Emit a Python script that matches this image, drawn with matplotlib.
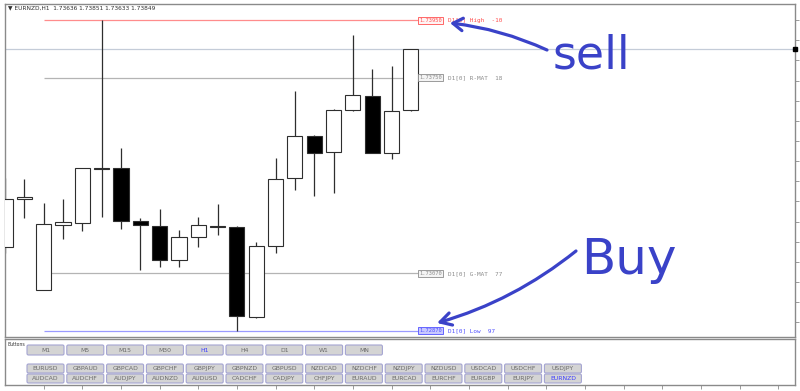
import numpy as np
import matplotlib
matplotlib.use("Agg")
import matplotlib.pyplot as plt
from matplotlib.patches import Rectangle, FancyBboxPatch
from matplotlib.ticker import MultipleLocator

# EURNZD H1 candles (oldest first)
opens  = [1.73163, 1.73327, 1.73012, 1.73238, 1.73246, 1.73436, 1.73435, 1.73253, 1.73236, 1.73117, 1.73197,
          1.73236, 1.73232, 1.72920, 1.73165, 1.73400, 1.73548, 1.73491, 1.73637, 1.73688, 1.73489, 1.73636]
highs  = [1.73401, 1.73398, 1.73313, 1.73328, 1.73437, 1.73950, 1.73504, 1.73261, 1.73293, 1.73221, 1.73267,
          1.73310, 1.73235, 1.73180, 1.73472, 1.73703, 1.73551, 1.73640, 1.73898, 1.73779, 1.73791, 1.73851]
lows   = [1.73141, 1.73263, 1.73011, 1.73188, 1.73217, 1.73265, 1.73223, 1.73082, 1.73093, 1.73091, 1.73161,
          1.73203, 1.72870, 1.72914, 1.73140, 1.73360, 1.73340, 1.73348, 1.73635, 1.73487, 1.73466, 1.73633]
closes = [1.73328, 1.73336, 1.73242, 1.73248, 1.73435, 1.73434, 1.73253, 1.73237, 1.73117, 1.73197, 1.73237,
          1.73231, 1.72922, 1.73165, 1.73398, 1.73547, 1.73489, 1.73637, 1.73691, 1.73489, 1.73634, 1.73849]

# D1 levels drawn by the indicator
level_names  = ["High", "R-MAT", "G-MAT", "Low"]
level_prices = [1.73950, 1.73750, 1.73070, 1.72870]
level_pips   = [-10, 18, 77, 97]
level_colors = ["#ff8c8c", "#b4b4b4", "#b4b4b4", "#9a9aff"]
label_colors = ["#ff5050", "#8c8c8c", "#8c8c8c", "#5050ff"]
label_fills  = ["#fff4f4", "#f4f4f4", "#f4f4f4", "#c8c8ff"]
level_start = 2          # lines start at this bar
bid = 1.73849

timeframes = ["M1", "M5", "M15", "M30", "H1", "H4", "D1", "W1", "MN"]
symbols_top = ["EURUSD", "GBPAUD", "GBPCAD", "GBPCHF", "GBPJPY", "GBPNZD", "GBPUSD",
               "NZDCAD", "NZDCHF", "NZDJPY", "NZDUSD", "USDCAD", "USDCHF", "USDJPY"]
symbols_bot = ["AUDCAD", "AUDCHF", "AUDJPY", "AUDNZD", "AUDUSD", "CADCHF", "CADJPY",
               "CHFJPY", "EURAUD", "EURCAD", "EURCHF", "EURGBP", "EURJPY", "EURNZD"]
active_tf, active_sym = "H1", "EURNZD"

W, H = 800, 391
BAR_PX = 19.33
INK = "#3a42c8"
MONO = "DejaVu Sans Mono"

fig = plt.figure(figsize=(W / 100, H / 100), dpi=100)
fig.patch.set_facecolor("white")

# main price window
ax = fig.add_axes([5 / W, (H - 337) / H, 790 / W, 333 / H], zorder=1)
ax.set_xlim(0, 790 / BAR_PX)
ax.set_ylim(1.72849, 1.74006)
for s in ax.spines.values():
    s.set_color("#8a8a8a"); s.set_linewidth(1)
ax.yaxis.tick_right()
ax.yaxis.set_major_locator(MultipleLocator(0.0007))
ax.tick_params(axis="y", length=3, width=0.6, color="#8a8a8a", labelright=False, labelleft=False)
ax.set_xticks([])

ax.axhline(bid, color="#c4ccd8", lw=0.9, zorder=1)
ax.plot([ax.get_xlim()[1]], [bid], marker="s", ms=3.2, color="black", clip_on=False, zorder=5)

xr = level_start + (418 - 5 - level_start * BAR_PX) / BAR_PX   # end of level lines
for name, p, pip, lc, tc, fc in zip(level_names, level_prices, level_pips, level_colors, label_colors, label_fills):
    ax.hlines(p, level_start, xr, color=lc, lw=0.9, zorder=1)
    ax.text(xr + 0.06, p, f"{p:.5f}", fontsize=3.9, family=MONO, color=tc, va="center", ha="left",
            bbox=dict(boxstyle="square,pad=0.18", fc=fc, ec=tc, lw=0.6), zorder=4)
    ax.text(xr + 1.55, p, f"D1[0] {name}  {pip}", fontsize=4.3, family=MONO, color=tc, va="center", ha="left", zorder=4)

bw = 0.78
for i, (o, h, l, c) in enumerate(zip(opens, highs, lows, closes)):
    ax.vlines(i, l, h, color="#2e2e2e", lw=0.9, zorder=2)
    body = abs(c - o) if abs(c - o) > 0.00002 else 0.00002
    ax.add_patch(Rectangle((i - bw / 2, min(o, c)), bw, body, facecolor="white" if c >= o else "black",
                           edgecolor="#2e2e2e", lw=0.8, zorder=3))

ax.text(0.004, 0.996, f"\u25bc EURNZD,H1  {opens[-1]:.5f} {highs[-1]:.5f} {lows[-1]:.5f} {closes[-1]:.5f}",
        transform=ax.transAxes, fontsize=4.2, color="#303030", va="top", ha="left")

# indicator sub-window (buttons live here), time ticks below it
sub = fig.add_axes([5 / W, (H - 385) / H, 790 / W, 46 / H], zorder=1)
sub.set_xlim(ax.get_xlim())
sub.set_ylim(0, 1); sub.set_yticks([])
for s in sub.spines.values():
    s.set_color("#8a8a8a"); s.set_linewidth(1)
sub.set_xticks(np.arange(2, 41, 2))
sub.tick_params(axis="x", length=3, width=0.6, color="#8a8a8a", labelbottom=False)

# overlay in pixel coordinates: buttons and hand-drawn notes
fg = fig.add_axes([0, 0, 1, 1], zorder=5)
fg.set_xlim(0, W); fg.set_ylim(H, 0); fg.axis("off"); fg.patch.set_visible(False)

fg.text(8, 345, "Buttons", fontsize=3.3, color="#333333", va="center", ha="left")


def button(x, y, w, h, label, active):
    fg.add_patch(FancyBboxPatch((x, y), w, h, boxstyle="round,pad=0,rounding_size=1.5",
                                fc="#d4d4d4", ec="#a4a4d2", lw=0.8))
    fg.text(x + w / 2, y + h / 2 + 0.3, label, fontsize=4.4, color="#3c3cff" if active else "#6a6a6a",
            ha="center", va="center")


for k, tf in enumerate(timeframes):
    button(27 + 39.8 * k, 345, 37, 10, tf, tf == active_tf)
for k, sym in enumerate(symbols_top):
    button(27 + 39.8 * k, 364, 37, 9, sym, sym == active_sym)
for k, sym in enumerate(symbols_bot):
    button(27 + 39.8 * k, 374, 37, 9, sym, sym == active_sym)

fg.text(553, 56, "sell", fontsize=33, color=INK, ha="left", va="center")
fg.annotate("", xy=(450, 23), xytext=(547, 50),
            arrowprops=dict(arrowstyle="->,head_length=0.7,head_width=0.45", color=INK, lw=2.3,
                            connectionstyle="arc3,rad=0.08", shrinkA=0, shrinkB=0))
fg.text(581, 274, "Buy", fontsize=36, color=INK, ha="left", va="baseline")
fg.annotate("", xy=(437, 323), xytext=(576, 251),
            arrowprops=dict(arrowstyle="->,head_length=0.8,head_width=0.45", color=INK, lw=2.3,
                            connectionstyle="arc3,rad=-0.1", shrinkA=0, shrinkB=0))

fig.savefig("out.png", dpi=100)
